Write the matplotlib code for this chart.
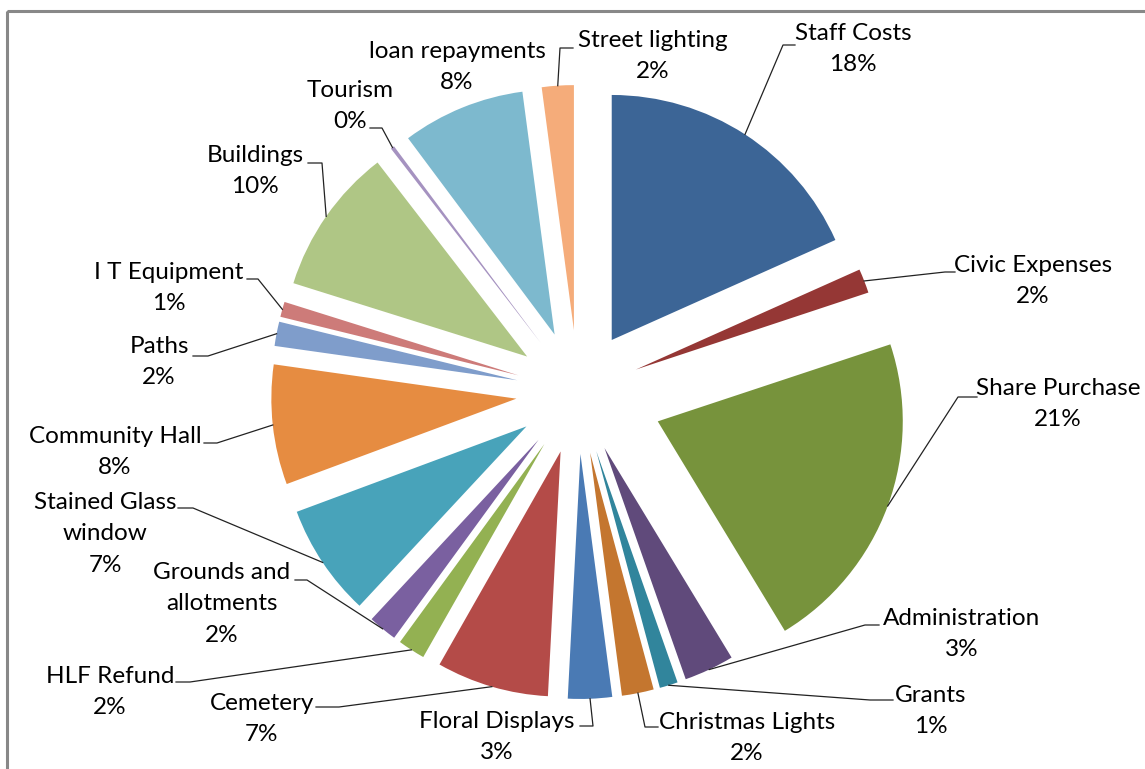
import matplotlib
matplotlib.use("Agg")
import matplotlib.pyplot as plt
from matplotlib.patches import Rectangle
import numpy as np

# データ (単位: %)
categories = ["Staff Costs", "Civic Expenses", "Share Purchase", "Administration",
              "Grants", "Christmas Lights", "Floral Displays", "Cemetery",
              "HLF Refund", "Grounds and\nallotments", "Stained Glass\nwindow",
              "Community Hall", "Paths", "I T Equipment", "Buildings", "Tourism",
              "loan repayments", "Street lighting"]
values = [18.3, 1.6, 21.4, 3.3, 1.2, 2.1, 2.9, 7.4, 1.8, 1.9, 7.4, 7.9, 1.6, 1.0,
          9.7, 0.25, 8.1, 2.1]
colors = ["#3c6596", "#953735", "#77933c", "#604a7b", "#31859c", "#c4762f",
          "#4a7ab4", "#b44b48", "#93b152", "#7a60a0", "#48a3ba", "#e68c41",
          "#7f9dcb", "#cd7b79", "#afc685", "#a592c0", "#7db9ce", "#f5ac7a"]

# レイアウト (画像座標, px)
W, H = 1145, 769
center = (578, 392)
radius = 245
explode = [62] * len(values)
explode[2] = 85

# ラベル中心, 引き出し線の始点 (テキスト側), 肘の x
label_pos = [(853, 49), (1033, 281), (1058, 404), (962, 634), (931, 711),
             (747, 738), (497, 737), (262, 719), (110, 692), (222, 604),
             (105, 534), (115, 452), (159, 362), (169, 288), (255, 171),
             (350, 106), (457, 67), (653, 56)]
leader_start = [(795, 45), (955, 272), (977, 397), (879, 625), (893, 700),
                (658, 727), (580, 726), (316, 707), (176, 682), (295, 580),
                (178, 508), (204, 443), (193, 356), (247, 279), (308, 163),
                (370, 128), None, (573, 48)]
elbow_dx = [-12, -10, -19, -14, -23, -13, 13, 23, 14, 12, 15, 13, 15, 11, 14, 12, 0, -13]

fig = plt.figure(figsize=(W / 100, H / 100), dpi=100)
ax = fig.add_axes([0, 0, 1, 1])

total = sum(values)
wedges, _ = ax.pie(values, colors=colors, explode=explode, radius=radius,
                   center=center, startangle=-90, counterclock=True,
                   wedgeprops=dict(linewidth=0))
ax.set_xlim(0, W)
ax.set_ylim(H, 0)
ax.set_aspect("auto")
ax.axis("off")

# 枠線
ax.add_patch(Rectangle((7, 11), W + 20, H + 20, fill=False, edgecolor="#888888",
                       linewidth=2.2, clip_on=True))

for i, w in enumerate(wedges):
    pct = int(round(values[i] / total * 100))
    lx, ly = label_pos[i]
    ax.text(lx, ly, f"{categories[i]}\n{pct}%", ha="center", va="center",
            fontsize=17.5, family=["Lato", "DejaVu Sans"], color="#000000",
            linespacing=1.6)
    if leader_start[i] is None:
        continue
    mid = np.deg2rad((w.theta1 + w.theta2) / 2)
    ax_, ay_ = w.center[0] + w.r * np.cos(mid), w.center[1] + w.r * np.sin(mid)
    sx, sy = leader_start[i]
    ex = sx + elbow_dx[i]
    ax.plot([sx, ex, ax_], [sy, sy, ay_], color="#222222", linewidth=0.9)

fig.savefig("out.png", dpi=100)
